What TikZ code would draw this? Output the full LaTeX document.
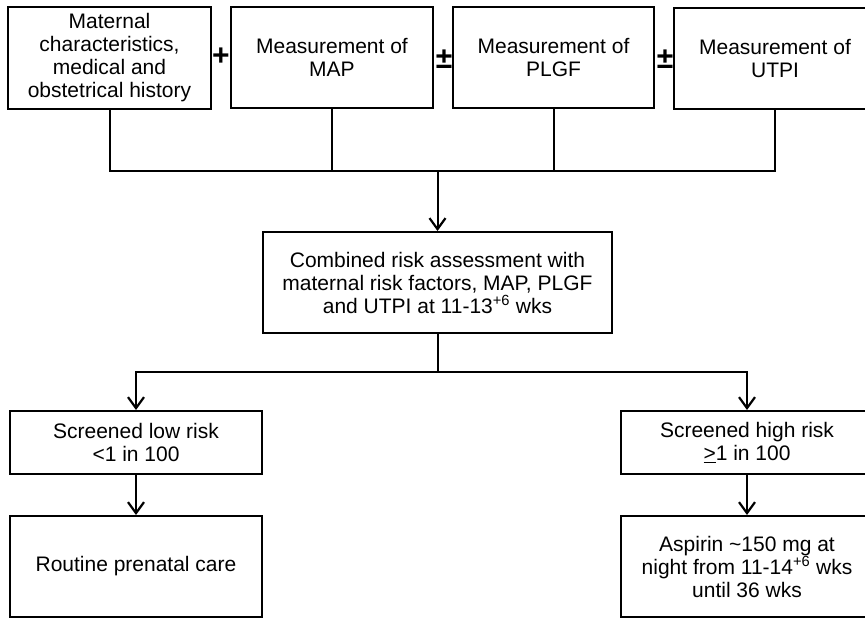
\documentclass[tikz,border=0pt]{standalone}
\usepackage{fontspec}
\setmainfont{Liberation Sans}
\usetikzlibrary{arrows.meta}
\tikzset{
  box/.style={draw, line width=2pt, inner sep=0pt, align=center,
    font=\fontsize{21}{23}\selectfont},
  conn/.style={line width=2pt},
  arr/.style={line width=2pt, -{Straight Barb[length=11pt,width=16pt,line width=2.2pt]}},
  sym/.style={inner sep=0pt, font=\fontsize{30}{30}\selectfont\bfseries}
}
\begin{document}
\begin{tikzpicture}[x=1pt,y=-1pt]
\useasboundingbox (0,0) rectangle (865,618);
\clip (0,0) rectangle (865,618);
% top row
\node[box, minimum width=203pt, minimum height=102pt] (b1) at (109.5,58)
  {Maternal\\characteristics,\\medical and\\obstetrical history};
\node[box, minimum width=202pt, minimum height=101pt] (b2) at (332,57.5)
  {Measurement of\\MAP};
\node[box, minimum width=201pt, minimum height=101pt] (b3) at (553.5,57.5)
  {Measurement of\\PLGF};
\node[box, minimum width=202pt, minimum height=101pt] (b4) at (775,58.5)
  {Measurement of\\UTPI};
\node[sym] (s1) at (221,57) {+};
\node[sym] (s2) at (444,59) {±};
\node[sym] (s3) at (665,59) {±};
% middle
\node[box, minimum width=349pt, minimum height=101pt] (mid) at (437.5,282.5)
  {Combined risk assessment with\\maternal risk factors, MAP, PLGF\\and UTPI at 11-13\textsuperscript{+6} wks};
% bottom
\node[box, minimum width=252pt, minimum height=63pt] (low) at (136,442.5)
  {Screened low risk\\<1 in 100};
\node[box, minimum width=252pt, minimum height=101pt] (rout) at (136,566.5)
  {Routine prenatal care};
\node[box, minimum width=252pt, minimum height=63pt] (high) at (747,442.5)
  {Screened high risk\\\underline{>}1 in 100};
\node[box, minimum width=252pt, minimum height=101pt] (asp) at (747,566.5)
  {Aspirin \textasciitilde150 mg at\\night from 11-14\textsuperscript{+6} wks\\until 36 wks};
% connectors
\coordinate (j) at (mid.north |- 0,171);
\coordinate (k) at (mid.south |- 0,372);
\draw[conn] (b1.south) -- (b1.south |- j) -- (b4.south |- j) -- (b4.south);
\draw[conn] (b2.south) -- (b2.south |- j);
\draw[conn] (b3.south) -- (b3.south |- j);
\draw[arr] (j) -- (mid.north);
\draw[conn] (mid.south) -- (k);
\draw[arr] (k) -| (low.north);
\draw[arr] (k) -| (high.north);
\draw[arr] (low.south) -- (rout.north);
\draw[arr] (high.south) -- (asp.north);
\end{tikzpicture}
\end{document}
